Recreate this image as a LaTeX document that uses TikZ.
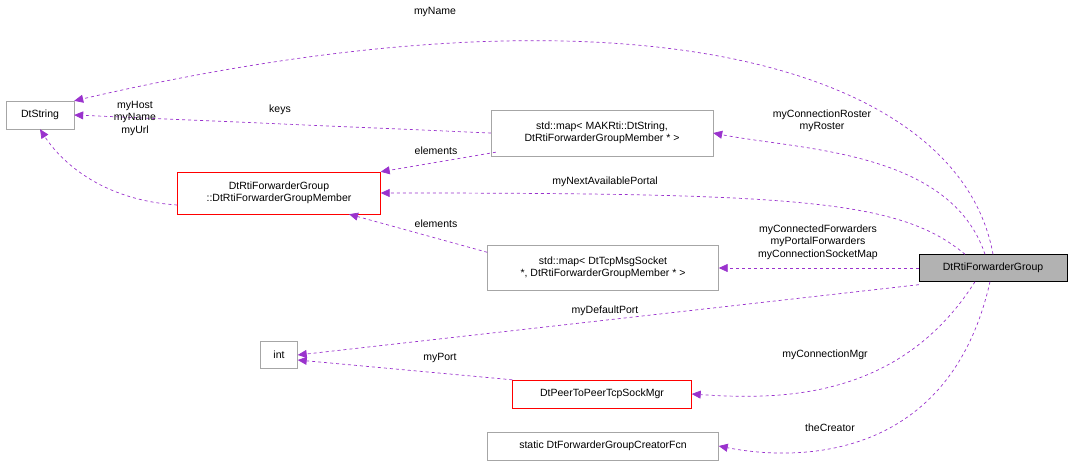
\documentclass[tikz,border=0pt]{standalone}
\usepackage{fontspec}
\setmainfont{Liberation Sans}
\usetikzlibrary{arrows.meta,calc}
\definecolor{ed}{HTML}{9A32CD}
\begin{document}
\begin{tikzpicture}[x=1pt,y=-1pt,
 box/.style={draw=#1,fill=white,inner sep=2pt,font=\fontsize{10.5}{12.5}\selectfont,align=center},
 box/.default={black!35},
 e/.style={draw=ed,dashed,line width=0.7pt,-{Triangle[fill=ed,length=9pt,width=8pt]}},
 lb/.style={font=\fontsize{10.5}{12.5}\selectfont,align=center}]
\useasboundingbox (0,0) rectangle (1072,468);
\node[box,minimum width=68,minimum height=28] (ds) at (40,115) {DtString};
\node[box,minimum width=222,minimum height=46] (m1) at (602,133) {std::map< MAKRti::DtString,\\ DtRtiForwarderGroupMember * >};
\node[box=red,minimum width=203,minimum height=42] (mem) at (279,193) {DtRtiForwarderGroup\\ ::DtRtiForwarderGroupMember};
\node[box,minimum width=231,minimum height=45] (m2) at (603,268) {std::map< DtTcpMsgSocket\\ *, DtRtiForwarderGroupMember * >};
\node[box=black,fill=black!30,minimum width=148,minimum height=27] (g) at (993,268) {DtRtiForwarderGroup};
\node[box,minimum width=37,minimum height=27] (int) at (279,355) {int};
\node[box=red,minimum width=179,minimum height=28] (p) at (602,394) {DtPeerToPeerTcpSockMgr};
\node[box,minimum width=231,minimum height=28] (st) at (603,446) {static DtForwarderGroupCreatorFcn};

\draw[e] (g.north) .. controls (960,70) and (640,-30) .. (ds.north east);
\node[lb] at (435,12) {myName};
\draw[e] (m1.west) -- (ds.east);
\node[lb] at (280,110) {keys};
\draw[e] ($(m1.south west)+(5,-4)$) -- (mem.north east);
\node[lb] at (436,151) {elements};
\draw[e] ($(mem.west)+(0,12)$) .. controls (100,200) and (60,160) .. (ds.south);
\node[lb] at (135,118) {myHost\\myName\\myUrl};
\draw[e] ($(g.north)+(-8,0)$) .. controls (950,150) and (800,150) .. (m1.east);
\node[lb] at (822,121) {myConnectionRoster\\myRoster};
\draw[e] ($(g.north)+(-28,0)$) .. controls (900,200) and (800,193) .. (mem.east);
\node[lb] at (605,182) {myNextAvailablePortal};
\draw[e] ($(m2.north west)+(0,7)$) -- ($(mem.south)+(70,0)$);
\node[lb] at (436,224) {elements};
\draw[e] (g.west) -- (m2.east);
\node[lb] at (818,242) {myConnectedForwarders\\myPortalForwarders\\myConnectionSocketMap};
\draw[e] ($(g.south west)+(0,3)$) -- (int.east);
\node[lb] at (605,311) {myDefaultPort};
\draw[e] (p.north west) -- ($(int.east)+(0,5)$);
\node[lb] at (440,358) {myPort};
\draw[e] ($(g.south)+(-18,0)$) .. controls (900,400) and (780,400) .. (p.east);
\node[lb] at (825,355) {myConnectionMgr};
\draw[e] ($(g.south)+(-3,0)$) .. controls (950,460) and (800,462) .. (st.east);
\node[lb] at (830,428) {theCreator};
\end{tikzpicture}
\end{document}
